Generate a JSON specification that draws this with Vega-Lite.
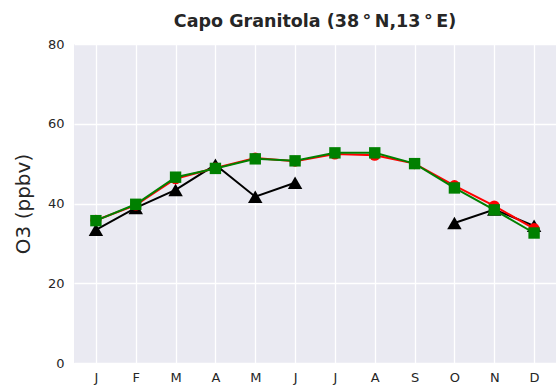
{
  "$schema": "https://vega.github.io/schema/vega-lite/v6.json",
  "autosize": {"type": "none"},
  "padding": {"left": 74, "top": 44, "right": 0, "bottom": 28},
  "width": 482,
  "height": 319,
  "background": "white",
  "title": {
    "text": "Capo Granitola (38\u2009°\u2009N,13\u2009°\u2009E)",
    "font": "DejaVu Sans",
    "fontSize": 17.5,
    "fontWeight": "bold",
    "color": "#262626",
    "anchor": "middle",
    "frame": "group",
    "baseline": "bottom",
    "offset": -10
  },
  "config": {
    "view": {"fill": "#EAEAF2", "stroke": null},
    "axis": {
      "domain": false,
      "ticks": false,
      "tickSize": 0,
      "gridColor": "white",
      "gridWidth": 1.3,
      "labelFont": "DejaVu Sans",
      "labelFontSize": 13,
      "labelColor": "#262626",
      "titleFont": "DejaVu Sans",
      "titleFontWeight": "normal",
      "titleColor": "#262626"
    }
  },
  "data": {
    "values": [
      {"m": 1, "series": "obs", "o3": 33.4},
      {"m": 2, "series": "obs", "o3": 38.9},
      {"m": 3, "series": "obs", "o3": 43.4},
      {"m": 4, "series": "obs", "o3": 49.7},
      {"m": 5, "series": "obs", "o3": 41.7},
      {"m": 6, "series": "obs", "o3": 45.2},
      {"m": 7, "series": "obs", "o3": null},
      {"m": 8, "series": "obs", "o3": null},
      {"m": 9, "series": "obs", "o3": null},
      {"m": 10, "series": "obs", "o3": 35.1},
      {"m": 11, "series": "obs", "o3": 38.5},
      {"m": 12, "series": "obs", "o3": 34.4},
      {"m": 1, "series": "red", "o3": 35.8},
      {"m": 2, "series": "red", "o3": 39.6},
      {"m": 3, "series": "red", "o3": 46.2},
      {"m": 4, "series": "red", "o3": 48.9},
      {"m": 5, "series": "red", "o3": 51.4},
      {"m": 6, "series": "red", "o3": 50.6},
      {"m": 7, "series": "red", "o3": 52.4},
      {"m": 8, "series": "red", "o3": 52.1},
      {"m": 9, "series": "red", "o3": 50.0},
      {"m": 10, "series": "red", "o3": 44.5},
      {"m": 11, "series": "red", "o3": 39.4},
      {"m": 12, "series": "red", "o3": 33.7},
      {"m": 1, "series": "green", "o3": 35.7},
      {"m": 2, "series": "green", "o3": 39.8},
      {"m": 3, "series": "green", "o3": 46.6},
      {"m": 4, "series": "green", "o3": 48.8},
      {"m": 5, "series": "green", "o3": 51.2},
      {"m": 6, "series": "green", "o3": 50.7},
      {"m": 7, "series": "green", "o3": 52.7},
      {"m": 8, "series": "green", "o3": 52.7},
      {"m": 9, "series": "green", "o3": 50.0},
      {"m": 10, "series": "green", "o3": 43.9},
      {"m": 11, "series": "green", "o3": 38.4},
      {"m": 12, "series": "green", "o3": 32.6}
    ]
  },
  "encoding": {
    "x": {
      "field": "m",
      "type": "quantitative",
      "scale": {"domain": [0.45, 12.55], "nice": false, "zero": false},
      "axis": {
        "title": null,
        "values": [1, 2, 3, 4, 5, 6, 7, 8, 9, 10, 11, 12],
        "labelExpr": "['J','F','M','A','M','J','J','A','S','O','N','D'][datum.value - 1]",
        "labelPadding": 8,
        "labelFlush": false,
        "labelOverlap": false
      }
    },
    "y": {
      "field": "o3",
      "type": "quantitative",
      "scale": {"domain": [0, 80], "nice": false},
      "axis": {
        "title": "O3 (ppbv)",
        "titleFontSize": 20,
        "titlePadding": 14,
        "values": [0, 20, 40, 60, 80],
        "labelPadding": 10
      }
    }
  },
  "layer": [
    {
      "transform": [{"filter": "datum.series === 'obs'"}],
      "layer": [
        {"mark": {"type": "line", "color": "black", "strokeWidth": 2, "invalid": "break-paths-show-domains"}},
        {"mark": {"type": "point", "shape": "triangle-up", "filled": true, "color": "black", "opacity": 1, "size": 210, "invalid": "break-paths-show-domains"}}
      ]
    },
    {
      "transform": [{"filter": "datum.series === 'red'"}],
      "layer": [
        {"mark": {"type": "line", "color": "#FF0000", "strokeWidth": 2}},
        {"mark": {"type": "point", "shape": "circle", "filled": true, "color": "#FF0000", "opacity": 1, "size": 121}}
      ]
    },
    {
      "transform": [{"filter": "datum.series === 'green'"}],
      "layer": [
        {"mark": {"type": "line", "color": "#008000", "strokeWidth": 2}},
        {"mark": {"type": "point", "shape": "square", "filled": true, "color": "#008000", "opacity": 1, "size": 130}}
      ]
    }
  ]
}
